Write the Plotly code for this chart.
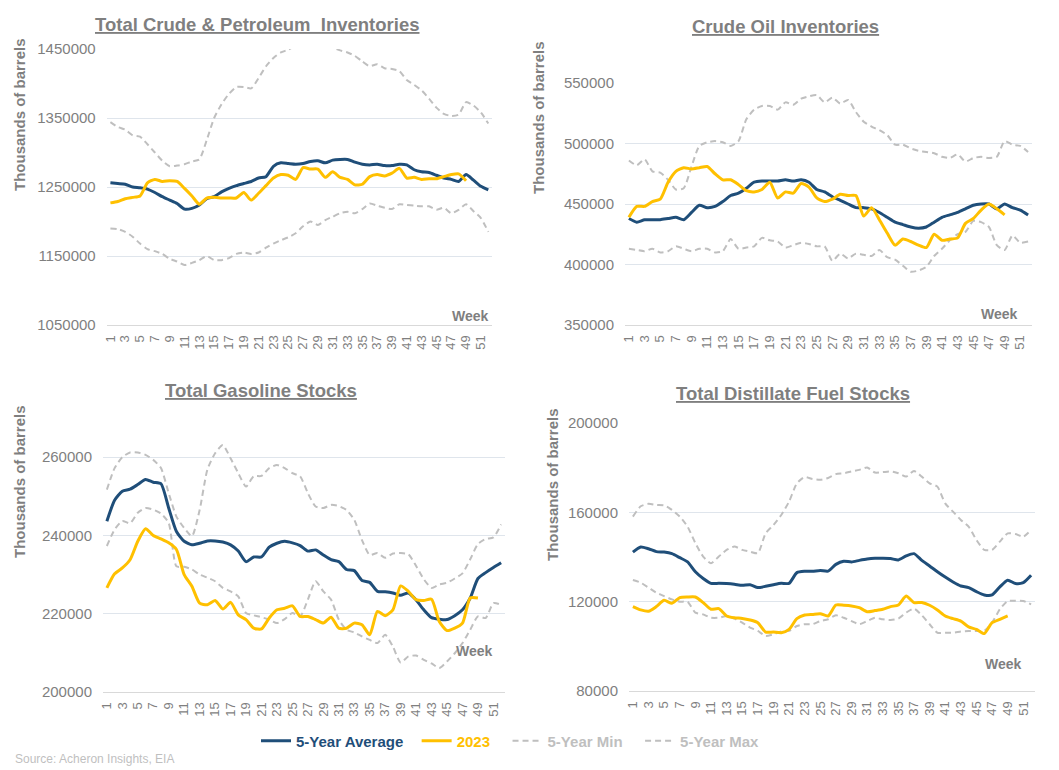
import plotly.graph_objects as go

weeks = list(range(1, 53))
weeks_2023 = list(range(1, 50))
tick_weeks = list(range(1, 52, 2))

# ---------------- Total Crude & Petroleum Inventories ----------------
total_avg = [1256000, 1255000, 1254000, 1250000, 1249000, 1247000, 1242000, 1236000, 1231000, 1226000,
             1218000, 1219000, 1224000, 1233000, 1236000, 1243000, 1248000, 1252000, 1255000, 1258000,
             1263000, 1265000, 1280000, 1285000, 1284000, 1283000, 1284000, 1287000, 1288000, 1285000,
             1289000, 1290000, 1290000, 1286000, 1283000, 1282000, 1283000, 1281000, 1281000, 1283000,
             1282000, 1275000, 1272000, 1271000, 1267000, 1263000, 1261000, 1258000, 1268000, 1260000,
             1251000, 1246000]
total_2023 = [1227000, 1229000, 1233000, 1235000, 1237000, 1256000, 1261000, 1258000, 1259000, 1258000,
              1248000, 1237000, 1225000, 1234000, 1235000, 1234000, 1234000, 1234000, 1242000, 1231000,
              1241000, 1252000, 1263000, 1268000, 1267000, 1261000, 1278000, 1276000, 1276000, 1264000,
              1272000, 1264000, 1261000, 1253000, 1254000, 1265000, 1268000, 1266000, 1270000, 1277000,
              1263000, 1264000, 1261000, 1262000, 1262000, 1265000, 1268000, 1269000, 1259000]
total_max = [1344000, 1337000, 1333000, 1325000, 1323000, 1312000, 1300000, 1288000, 1280000, 1281000,
             1283000, 1287000, 1290000, 1318000, 1350000, 1370000, 1385000, 1395000, 1395000, 1393000,
             1408000, 1425000, 1437000, 1445000, 1449000, 1455000, 1458000, 1460000, 1460000, 1457000,
             1452000, 1448000, 1445000, 1440000, 1432000, 1425000, 1428000, 1422000, 1421000, 1418000,
             1405000, 1398000, 1390000, 1378000, 1365000, 1356000, 1353000, 1355000, 1373000, 1368000,
             1358000, 1342000]
total_min = [1190000, 1189000, 1185000, 1178000, 1168000, 1160000, 1157000, 1153000, 1146000, 1142000,
             1137000, 1140000, 1144000, 1150000, 1144000, 1144000, 1147000, 1153000, 1155000, 1153000,
             1155000, 1162000, 1168000, 1173000, 1177000, 1183000, 1193000, 1200000, 1195000, 1202000,
             1207000, 1212000, 1214000, 1212000, 1218000, 1226000, 1223000, 1220000, 1218000, 1225000,
             1224000, 1223000, 1222000, 1222000, 1217000, 1220000, 1212000, 1217000, 1225000, 1215000,
             1205000, 1185000]

# ---------------- Crude Oil Inventories ----------------
crude_avg = [438000, 435000, 437000, 437000, 437000, 438000, 439000, 437000, 443000, 449000,
             447000, 448000, 452000, 457000, 459000, 463000, 468000, 469000, 469000, 469000,
             470000, 469000, 470000, 468000, 462000, 460000, 456000, 453000, 450000, 447000,
             447000, 446000, 443000, 439000, 435000, 433000, 431000, 430000, 431000, 435000,
             439000, 441000, 443000, 446000, 449000, 450000, 450000, 446000, 450000, 447000,
             445000, 441000]
crude_2023 = [439000, 448000, 448000, 452000, 454000, 468000, 477000, 480000, 479000, 480000,
              481000, 475000, 470000, 470000, 466000, 461000, 460000, 462000, 468000, 455000,
              460000, 459000, 467000, 464000, 455000, 452000, 454000, 458000, 457000, 457000,
              440000, 447000, 437000, 426000, 416000, 421000, 419000, 416000, 414000, 425000,
              420000, 421000, 422000, 434000, 438000, 445000, 450000, 446000, 441000]
crude_max = [486000, 482000, 487000, 477000, 476000, 470000, 462000, 463000, 481000, 498000,
             501000, 502000, 501000, 498000, 502000, 520000, 528000, 531000, 531000, 528000,
             534000, 532000, 537000, 539000, 540000, 534000, 538000, 533000, 536000, 526000,
             518000, 514000, 511000, 507000, 499000, 499000, 496000, 494000, 493000, 492000,
             489000, 488000, 491000, 485000, 488000, 489000, 488000, 489000, 502000, 499000,
             498000, 493000]
crude_min = [413000, 412000, 411000, 413000, 410000, 411000, 415000, 413000, 411000, 413000,
             413000, 410000, 411000, 421000, 413000, 414000, 415000, 422000, 420000, 419000,
             414000, 416000, 418000, 417000, 415000, 415000, 403000, 409000, 405000, 409000,
             408000, 407000, 412000, 406000, 404000, 399000, 394000, 395000, 398000, 407000,
             413000, 420000, 425000, 427000, 436000, 435000, 431000, 416000, 412000, 424000,
             418000, 419000]

# ---------------- Total Gasoline Stocks ----------------
gas_avg = [243600, 249000, 251300, 251800, 253000, 254300, 253600, 253200, 247000, 241000,
           238500, 237600, 238000, 238600, 238600, 238300, 237600, 236000, 233300, 234500,
           234500, 237000, 238000, 238500, 238100, 237400, 236000, 236300, 235000, 233800,
           233300, 231300, 231000, 228500, 228000, 225700, 225600, 225300, 224700, 225300,
           223500, 221000, 219000, 218600, 218500, 219500, 221000, 224000, 229000, 230500,
           231800, 233000]
gas_2023 = [226600, 230200, 231700, 233800, 238500, 241700, 240000, 239100, 238100, 236400,
            230000, 227000, 222700, 222300, 223400, 221200, 222900, 219700, 218500, 216300,
            216100, 218900, 221000, 221400, 222000, 219300, 219300, 218500, 217600, 219100,
            216300, 216300, 217600, 217200, 214600, 220600, 219500, 221000, 227100, 225700,
            223600, 223400, 223700, 218000, 215700, 216300, 217600, 224000, 224000]
gas_max = [251700, 257200, 260000, 261200, 261200, 260600, 259300, 257200, 250800, 244800,
           241900, 239800, 246500, 256800, 261000, 263100, 259700, 255900, 252500, 255100,
           255200, 257200, 258000, 257200, 255900, 255100, 250800, 247400, 247000, 247800,
           247500, 246500, 244000, 238800, 235000, 235500, 234300, 235400, 235500, 235200,
           232200, 228800, 226600, 227500, 227900, 229000, 230300, 233900, 237800, 239100,
           239500, 242800]
gas_min = [237300, 241500, 243700, 243100, 245800, 247000, 246600, 245600, 243200, 232100,
           232000, 231300, 230000, 229200, 228300, 226600, 225700, 224400, 220200, 219600,
           219100, 218500, 217600, 218600, 220200, 219300, 223600, 228300, 225700, 223600,
           218500, 215900, 215200, 214200, 213300, 212500, 214600, 211600, 207500, 209100,
           209300, 208200, 207300, 206100, 207800, 209900, 212500, 215900, 219300, 218900,
           222700, 222300]

# ---------------- Total Distillate Fuel Stocks ----------------
dist_avg = [142200, 144500, 143700, 142400, 142200, 141500, 139700, 137800, 133400, 130400,
            128200, 128200, 128100, 127800, 127300, 127600, 126300, 126900, 127600, 128200,
            128200, 133000, 133600, 133600, 134000, 133700, 136700, 138100, 137800, 138500,
            139100, 139400, 139400, 139300, 138700, 140500, 141500, 138500, 136000, 133400,
            131000, 128800, 127000, 126300, 124500, 123000, 123000, 126600, 129600, 128100,
            128500, 131800]
dist_2023 = [117800, 116300, 115700, 117800, 120600, 119300, 121800, 122100, 122100, 119600,
             116600, 116900, 113600, 112800, 112500, 111800, 110600, 106400, 106400, 106100,
             107600, 112400, 114000, 114300, 114600, 113600, 118500, 118400, 118100, 117300,
             115500, 116000, 116600, 117800, 118500, 122500, 119600, 119600, 118400, 116300,
             113600, 112400, 111300, 108700, 107600, 105700, 110600, 112100, 113600]
dist_max = [158100, 162700, 163800, 163300, 163100, 161100, 158100, 153600, 146200, 140200,
            137200, 140200, 143200, 144700, 143200, 142400, 141700, 150600, 154300, 158800,
            164800, 173000, 175800, 174900, 174600, 175400, 177100, 177500, 178300, 179000,
            180100, 177800, 178000, 178300, 177500, 176000, 178500, 176000, 173000, 171500,
            164000, 160300, 156600, 153600, 147600, 143200, 143200, 146900, 150600, 150300,
            149100, 152100]
dist_min = [129700, 128500, 126300, 124000, 122500, 121000, 120000, 119900, 115100, 114300,
            112800, 112800, 113600, 112400, 110600, 108400, 106900, 104600, 105400, 106600,
            106900, 109100, 109900, 109900, 111300, 112100, 113900, 112800, 111300, 109900,
            111300, 112800, 112100, 111800, 112400, 115100, 116900, 113900, 109900, 106100,
            106100, 106100, 106600, 106900, 106900, 106900, 110600, 116600, 120300, 120400,
            120300, 118800]

panel_titles = ["Total Crude &amp; Petroleum&nbsp;&nbsp;Inventories", "Crude Oil Inventories",
                "Total Gasoline Stocks", "Total Distillate Fuel Stocks"]
y_ranges = [(1050000, 1450000, 100000), (350000, 550000, 50000),
            (200000, 270000, 20000), (80000, 200000, 40000)]
series = [(total_avg, total_2023, total_min, total_max),
          (crude_avg, crude_2023, crude_min, crude_max),
          (gas_avg, gas_2023, gas_min, gas_max),
          (dist_avg, dist_2023, dist_min, dist_max)]

W, H = 1059, 770
OFF = 8  # the page body adds an 8px margin; positions below are page pixels
# plot-area boxes in page pixels: (left, right, top, bottom)
boxes = [(106.7, 492, 49, 325), (625, 1032, 83, 325), (103, 505, 418, 692), (629, 1035, 423, 691)]
title_pos = [(257, 24), (785, 26), (261, 390), (793, 393)]
ytitle_pos = [(19, 115), (539, 118), (19, 482), (552, 485)]
week_pos = [(491, 316), (1020, 314), (495, 651), (1024, 664)]


def px(x):
    return (x - OFF) / W


def py(y):
    return 1 - (y - OFF) / H


NAVY = "#1f4e79"
GOLD = "#ffc000"
LGREY = "#bfbfbf"
GREY = "#7f7f7f"
FONT = "Liberation Sans, Arial, sans-serif"

fig = go.Figure()
names = ['<span style="color:%s">5-Year Average</span>&nbsp;&nbsp;' % NAVY,
         '<span style="color:%s">2023</span>&nbsp;&nbsp;&nbsp;' % GOLD,
         '<span style="color:%s">5-Year Min</span>&nbsp;&nbsp;&nbsp;' % LGREY,
         '<span style="color:%s">5-Year Max</span>' % LGREY]

for i, (avg, cur, mn, mx) in enumerate(series):
    xa = "x" if i == 0 else "x%d" % (i + 1)
    ya = "y" if i == 0 else "y%d" % (i + 1)
    show = i == 0
    fig.add_trace(go.Scatter(x=weeks, y=mn, mode="lines", name=names[2], legendrank=3,
                             line=dict(color=LGREY, width=2, dash="6px,4px", shape="spline", smoothing=0.6),
                             xaxis=xa, yaxis=ya, showlegend=show))
    fig.add_trace(go.Scatter(x=weeks, y=mx, mode="lines", name=names[3], legendrank=4,
                             line=dict(color=LGREY, width=2, dash="6px,4px", shape="spline", smoothing=0.6),
                             xaxis=xa, yaxis=ya, showlegend=show))
    fig.add_trace(go.Scatter(x=weeks, y=avg, mode="lines", name=names[0], legendrank=1,
                             line=dict(color=NAVY, width=3, shape="spline", smoothing=0.6),
                             xaxis=xa, yaxis=ya, showlegend=show))
    fig.add_trace(go.Scatter(x=weeks_2023, y=cur, mode="lines", name=names[1], legendrank=2,
                             line=dict(color=GOLD, width=3, shape="spline", smoothing=0.6),
                             xaxis=xa, yaxis=ya, showlegend=show))

layout = {}
annotations = []
for i in range(4):
    l, r, t, b = boxes[i]
    lo, hi, dt = y_ranges[i]
    sfx = "" if i == 0 else str(i + 1)
    layout["xaxis" + sfx] = dict(
        domain=[px(l), px(r)], range=[0.5, 52.5], anchor="y" + sfx, automargin=False,
        tickmode="array", tickvals=tick_weeks, ticktext=[str(w) for w in tick_weeks],
        tickangle=-90, tickfont=dict(family=FONT, size=13, color=GREY),
        showgrid=False, zeroline=False, showline=True, linecolor="#d9d9d9", linewidth=1,
        ticks="", ticklabelstandoff=4, fixedrange=True)
    layout["yaxis" + sfx] = dict(
        domain=[py(b), py(t)], range=[lo, hi], anchor="x" + sfx, automargin=False,
        tick0=lo, dtick=dt, tickformat="d", tickfont=dict(family=FONT, size=15, color=GREY),
        showgrid=True, gridcolor="#dfe5ec", gridwidth=1, zeroline=False, showline=False,
        ticks="", ticklabelstandoff=10, fixedrange=True)
    tx, ty = title_pos[i]
    annotations.append(dict(text=panel_titles[i], x=px(tx), y=py(ty), xref="paper", yref="paper",
                            xanchor="center", yanchor="middle", showarrow=False,
                            font=dict(family=FONT, size=18.5, color=GREY, weight="bold", lineposition="under")))
    ax_, ay_ = ytitle_pos[i]
    annotations.append(dict(text="Thousands of barrels", x=px(ax_), y=py(ay_), xref="paper", yref="paper",
                            xanchor="center", yanchor="middle", textangle=-90, showarrow=False,
                            font=dict(family=FONT, size=15, color=GREY, weight="bold")))
    wx, wy = week_pos[i]
    annotations.append(dict(text="Week", x=px(wx), y=py(wy), xref="paper", yref="paper",
                            xanchor="right", yanchor="middle", showarrow=False,
                            font=dict(family=FONT, size=14, color=GREY, weight="bold")))

annotations.append(dict(text="Source: Acheron Insights, EIA", x=px(13), y=py(759), xref="paper", yref="paper",
                        xanchor="left", yanchor="middle", showarrow=False,
                        font=dict(family=FONT, size=12, color=LGREY)))

fig.update_layout(
    width=W, height=H, margin=dict(l=0, r=0, t=0, b=0, autoexpand=False),
    paper_bgcolor="white", plot_bgcolor="white",
    showlegend=True,
    legend=dict(orientation="h", x=px(256), xanchor="left", y=py(741), yanchor="middle",
                font=dict(family=FONT, size=15, weight="bold"), itemwidth=30,
                bgcolor="rgba(0,0,0,0)", traceorder="normal"),
    annotations=annotations,
    **layout)

fig.write_html("out.html")
